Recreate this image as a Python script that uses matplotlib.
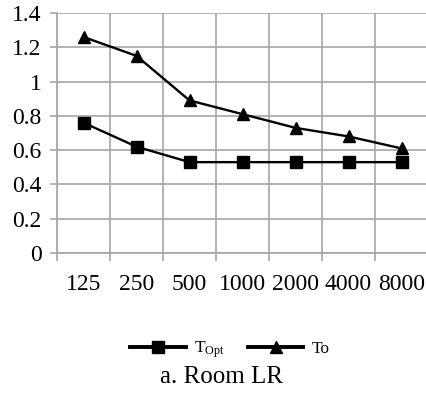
'''
Reverberation time per octave band, room LR.
'''

import matplotlib
matplotlib.use('Agg')
import matplotlib.pyplot as plt
import numpy as np

# octave band centre frequencies [Hz]
freqs = ['125', '250', '500', '1000', '2000', '4000', '8000']
# optimum reverberation time
t_opt = [0.76, 0.62, 0.53, 0.53, 0.53, 0.53, 0.53]
# measured reverberation time
t_o = [1.26, 1.15, 0.89, 0.81, 0.73, 0.68, 0.61]
yticks = [0, 0.2, 0.4, 0.6, 0.8, 1, 1.2, 1.4]
ytick_labels = ['0', '0.2', '0.4', '0.6', '0.8', '1', '1.2', '1.4']

matplotlib.rcParams.update({'font.family': 'Liberation Serif',
                            'mathtext.fontset': 'custom',
                            'mathtext.rm': 'Liberation Serif',
                            'mathtext.it': 'Liberation Serif:italic'})

grid_col = '#a6a6a6'

fig = plt.figure(figsize=(4.26, 3.93), dpi=100)
ax = fig.add_axes([57/426., 140/393., 371/426., 240/393.])

x = np.arange(len(freqs))
ax.plot(x, t_opt, color='k', lw=1.7, marker='s', ms=9, label=r'T$_{\mathrm{Opt}}$')
ax.plot(x, t_o, color='k', lw=1.7, marker='^', ms=9, label='To')

ax.set_xlim(-0.5, len(freqs) - 0.5)
ax.set_ylim(0, 1.4)

# category boundaries as grid lines (Excel style)
ax.set_xticks(x)
ax.set_xticklabels(freqs)
ax.set_xticks(np.arange(len(freqs) + 1) - 0.5, minor=True)
ax.set_yticks(yticks)
ax.set_yticklabels(ytick_labels)
ax.grid(True, which='minor', axis='x', color=grid_col, lw=1.2)
ax.grid(True, which='major', axis='y', color=grid_col, lw=1.2)
ax.set_axisbelow(True)

ax.tick_params(axis='x', which='major', length=0, pad=15, labelsize=17)
ax.tick_params(axis='x', which='minor', length=6, width=1.2, color=grid_col)
ax.tick_params(axis='y', length=5, width=1.2, color=grid_col, pad=6, labelsize=17)

for s in ['top', 'right']:
    ax.spines[s].set_visible(False)
for s in ['left', 'bottom']:
    ax.spines[s].set_color(grid_col)
    ax.spines[s].set_linewidth(1.2)

leg = fig.legend(loc='center', bbox_to_anchor=(230/426., 43/393.), ncol=2, frameon=False,
                 fontsize=12.5, handlelength=3.2, handletextpad=0.5, columnspacing=1.3)
for line in leg.get_lines():
    line.set_linewidth(2.8)

fig.text(222/426., 16/393., 'a. Room LR', ha='center', va='center', fontsize=18)

fig.savefig('out.png', dpi=100)
